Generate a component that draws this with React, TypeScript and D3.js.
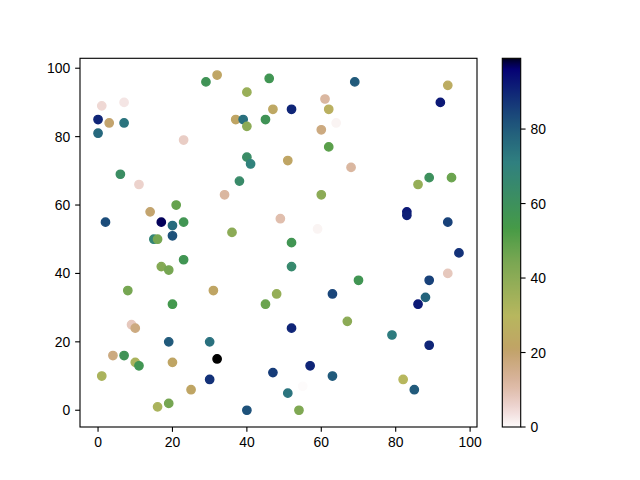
import React from "react";
import * as d3 from "d3";

const xVals = [29, 1, 7, 0, 3, 7, 0, 23, 6, 11, 21, 14, 2, 17, 23, 20, 20, 15, 16,
  32, 46, 40, 61, 47, 52, 62, 37, 39, 45, 40, 64, 60, 62, 40, 41, 51, 38, 34, 60, 49, 36, 59, 52,
  69, 94, 92, 68, 89, 95, 86, 83, 83, 94,
  23, 17, 19, 8, 20, 9, 10, 19, 30, 4, 7, 10, 11, 20, 30, 25, 1, 16, 19,
  52, 31, 48, 45, 63, 52, 32, 47, 57, 63, 55, 51, 40, 54,
  97, 94, 70, 89, 88, 86, 67, 79, 89, 82, 85];
const yVals = [96, 89, 90, 85, 84, 84, 81, 79, 69, 66, 60, 58, 55, 55, 55, 54, 51, 50, 50,
  98, 97, 93, 91, 88, 88, 88, 85, 85, 85, 83, 84, 82, 77, 74, 72, 73, 67, 63, 63, 56, 52, 53, 49,
  96, 95, 90, 71, 68, 68, 66, 58, 57, 55,
  44, 42, 41, 35, 31, 25, 24, 20, 20, 16, 16, 14, 13, 14, 9, 6, 10, 1, 2,
  42, 35, 34, 31, 34, 24, 15, 11, 13, 10, 7, 5, 0, 0,
  46, 40, 38, 38, 33, 31, 26, 22, 19, 9, 6];
const cVals = [58, 5, 3, 90, 20, 74, 77, 7, 62, 6, 48, 20, 83, 97, 57, 76, 82, 68, 45,
  22, 57, 37, 12, 23, 90, 27, 22, 75, 58, 40, 1, 17, 50, 63, 70, 22, 64, 12, 40, 10, 40, 1, 57,
  80, 25, 92, 12, 60, 47, 38, 92, 91, 85,
  57, 42, 45, 45, 55, 8, 17, 80, 75, 17, 58, 33, 57, 22, 88, 22, 33, 33, 45,
  65, 22, 38, 47, 84, 90, 99, 86, 90, 80, 0, 74, 82, 43,
  88, 8, 57, 85, 78, 92, 40, 72, 90, 30, 80];

const xTicks = [0, 20, 40, 60, 80, 100];
const yTicks = [0, 20, 40, 60, 80, 100];
const cTicks = [0, 20, 40, 60, 80];

// gist_earth segment data
const RED: [number, number][] = [[0, 0], [0.2824, 0.1882], [0.4588, 0.2714], [0.549, 0.4719], [0.698, 0.7176], [0.7882, 0.7553], [1, 0.9922]];
const GREEN: [number, number][] = [[0, 0], [0.0275, 0], [0.1098, 0.1893], [0.1647, 0.3035], [0.2078, 0.3841], [0.2824, 0.502], [0.5216, 0.6397], [0.698, 0.7171], [0.7882, 0.6392], [0.7922, 0.6413], [0.8, 0.6447], [0.8078, 0.6481], [0.8157, 0.6549], [0.8667, 0.6991], [0.8745, 0.7103], [0.8824, 0.7216], [0.8902, 0.7323], [0.898, 0.743], [0.9412, 0.8275], [0.9569, 0.8635], [0.9647, 0.8816], [0.9961, 0.9733], [1, 0.9843]];
const BLUE: [number, number][] = [[0, 0], [0.0039, 0.1684], [0.0078, 0.2212], [0.0275, 0.4329], [0.0314, 0.4549], [0.2824, 0.5004], [0.4667, 0.2748], [0.5451, 0.3205], [0.7843, 0.3961], [0.8941, 0.6651], [1, 0.9843]];

function seg(data: [number, number][], t: number) {
  for (let i = 1; i < data.length; i++) {
    if (t <= data[i][0]) {
      const [x0, y0] = data[i - 1];
      const [x1, y1] = data[i];
      const f = x1 === x0 ? 0 : (t - x0) / (x1 - x0);
      return y0 + f * (y1 - y0);
    }
  }
  return data[data.length - 1][1];
}
function gistEarthR(v: number) {
  const t = 1 - Math.max(0, Math.min(1, v));
  const r = Math.round(seg(RED, t) * 255);
  const g = Math.round(seg(GREEN, t) * 255);
  const b = Math.round(seg(BLUE, t) * 255);
  return `rgb(${r},${g},${b})`;
}

const W = 640, H = 480;
const AX = { left: 80, top: 58.3, right: 477, bottom: 427 };
const CB = { left: 502.3, right: 520.7 };
const FONT = "Liberation Sans, Arial, sans-serif";
const FS = 13.9;

export default function App() {
  const [xmin, xmax] = d3.extent(xVals) as [number, number];
  const [ymin, ymax] = d3.extent(yVals) as [number, number];
  const [cmin, cmax] = d3.extent(cVals) as [number, number];
  const xp = (xmax - xmin) * 0.05;
  const yp = (ymax - ymin) * 0.05;
  const x = d3.scaleLinear().domain([xmin - xp, xmax + xp]).range([AX.left, AX.right]);
  const y = d3.scaleLinear().domain([ymin - yp, ymax + yp]).range([AX.bottom, AX.top]);
  const cNorm = d3.scaleLinear().domain([cmin, cmax]).range([0, 1]);
  const cy = d3.scaleLinear().domain([cmin, cmax]).range([AX.bottom, AX.top]);
  const stops = d3.range(0, 257).map((i) => i / 256);

  return (
    <svg width={W} height={H} style={{ position: "absolute", left: 0, top: 0, background: "#fff" }} fontFamily={FONT}>
      <defs>
        <linearGradient id="cbar" x1="0" y1="1" x2="0" y2="0">
          {stops.map((s, i) => (
            <stop key={i} offset={s} stopColor={gistEarthR(s)} />
          ))}
        </linearGradient>
      </defs>
      <rect width={W} height={H} fill="#fff" />
      {xVals.map((xv, i) => (
        <circle key={i} cx={x(xv)} cy={y(yVals[i])} r={4.17} fill={gistEarthR(cNorm(cVals[i]))}
          stroke={gistEarthR(cNorm(cVals[i]))} strokeWidth={1.39} />
      ))}
      <rect x={AX.left} y={AX.top} width={AX.right - AX.left} height={AX.bottom - AX.top} fill="none" stroke="#000" strokeWidth={1.11} />
      {xTicks.map((t) => (
        <g key={t} transform={`translate(${x(t)},${AX.bottom})`}>
          <line y2={4.86} stroke="#000" strokeWidth={1.11} />
          <text y={4.86 + 4.86 + FS * 0.76} textAnchor="middle" fontSize={FS}>{t}</text>
        </g>
      ))}
      {yTicks.map((t) => (
        <g key={t} transform={`translate(${AX.left},${y(t)})`}>
          <line x2={-4.86} stroke="#000" strokeWidth={1.11} />
          <text x={-4.86 - 4.86} dy="0.36em" textAnchor="end" fontSize={FS}>{t}</text>
        </g>
      ))}
      <rect x={CB.left} y={AX.top} width={CB.right - CB.left} height={AX.bottom - AX.top} fill="url(#cbar)" />
      <rect x={CB.left} y={AX.top} width={CB.right - CB.left} height={AX.bottom - AX.top} fill="none" stroke="#000" strokeWidth={1.11} />
      {cTicks.map((t) => (
        <g key={t} transform={`translate(${CB.right},${cy(t)})`}>
          <line x2={4.86} stroke="#000" strokeWidth={1.11} />
          <text x={4.86 + 4.86} dy="0.36em" textAnchor="start" fontSize={FS}>{t}</text>
        </g>
      ))}
    </svg>
  );
}
